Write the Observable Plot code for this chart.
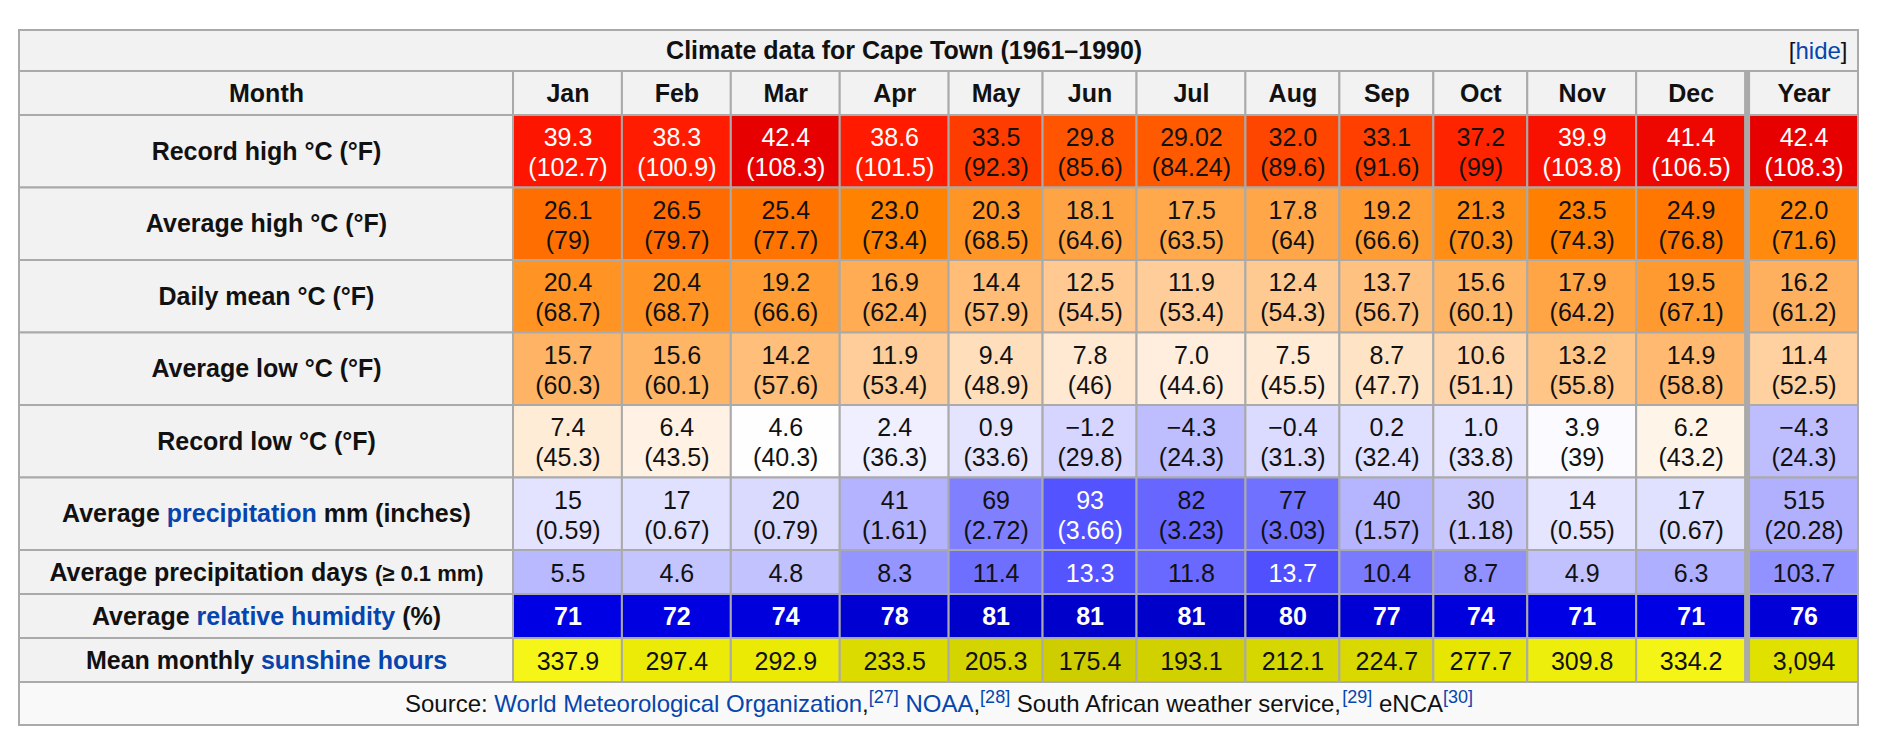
<!DOCTYPE html>
<html>
<head>
<meta charset="utf-8">
<script src="https://cdn.jsdelivr.net/npm/d3@7"></script>
<script src="https://cdn.jsdelivr.net/npm/@observablehq/plot@0.6"></script>
<style>
html, body { margin: 0; padding: 0; background: #fff; }
#chart svg { display: block; }
</style>
</head>
<body>
<div id="chart"></div>
<script>
// ---------------- data ----------------
const title = "Climate data for Cape Town (1961–1990)";
const columns = ["Jan","Feb","Mar","Apr","May","Jun","Jul","Aug","Sep","Oct","Nov","Dec","Year"];
const recordHighC = ["39.3","38.3","42.4","38.6","33.5","29.8","29.02","32.0","33.1","37.2","39.9","41.4","42.4"];
const recordHighF = ["102.7","100.9","108.3","101.5","92.3","85.6","84.24","89.6","91.6","99","103.8","106.5","108.3"];
const avgHighC = ["26.1","26.5","25.4","23.0","20.3","18.1","17.5","17.8","19.2","21.3","23.5","24.9","22.0"];
const avgHighF = ["79","79.7","77.7","73.4","68.5","64.6","63.5","64","66.6","70.3","74.3","76.8","71.6"];
const dailyMeanC = ["20.4","20.4","19.2","16.9","14.4","12.5","11.9","12.4","13.7","15.6","17.9","19.5","16.2"];
const dailyMeanF = ["68.7","68.7","66.6","62.4","57.9","54.5","53.4","54.3","56.7","60.1","64.2","67.1","61.2"];
const avgLowC = ["15.7","15.6","14.2","11.9","9.4","7.8","7.0","7.5","8.7","10.6","13.2","14.9","11.4"];
const avgLowF = ["60.3","60.1","57.6","53.4","48.9","46","44.6","45.5","47.7","51.1","55.8","58.8","52.5"];
const recordLowC = ["7.4","6.4","4.6","2.4","0.9","−1.2","−4.3","−0.4","0.2","1.0","3.9","6.2","−4.3"];
const recordLowF = ["45.3","43.5","40.3","36.3","33.6","29.8","24.3","31.3","32.4","33.8","39","43.2","24.3"];
const precipMm = ["15","17","20","41","69","93","82","77","40","30","14","17","515"];
const precipIn = ["0.59","0.67","0.79","1.61","2.72","3.66","3.23","3.03","1.57","1.18","0.55","0.67","20.28"];
const precipDays = ["5.5","4.6","4.8","8.3","11.4","13.3","11.8","13.7","10.4","8.7","4.9","6.3","103.7"];
const humidity = ["71","72","74","78","81","81","81","80","77","74","71","71","76"];
const sunshineHours = ["337.9","297.4","292.9","233.5","205.3","175.4","193.1","212.1","224.7","277.7","309.8","334.2","3,094"];
const headerLabel = "Month";
const rowLabels = [
  [["Record high °C (°F)"]],
  [["Average high °C (°F)"]],
  [["Daily mean °C (°F)"]],
  [["Average low °C (°F)"]],
  [["Record low °C (°F)"]],
  [["Average "], ["precipitation", "link"], [" mm (inches)"]],
  [["Average precipitation days "], ["(≥ 0.1 mm)", "small"]],
  [["Average "], ["relative humidity", "link"], [" (%)"]],
  [["Mean monthly "], ["sunshine hours", "link"]]
];
const hideParts = [["["], ["hide", "link"], ["]"]];
const sourceParts = [["Source: "], ["World Meteorological Organization", "link"], [","], ["[27]", "sup"],
  [" "], ["NOAA", "link"], [","], ["[28]", "sup"], [" South African weather service,"], ["[29]", "sup"],
  [" eNCA"], ["[30]", "sup"]];

// ---------------- styling / layout constants ----------------
const W = 1884, H = 746;
const fontFamily = "'Liberation Sans', Arial, Helvetica, sans-serif";
const fs = 25, smallFs = 22, sourceFs = 24, supFs = 18;
const tableLeft = 19, tableRight = 1858, tableTop = 30;
const labelColWidth = 494, yearGap = 4, cellPad = 22;
const titleRowH = 41, headRowH = 44, twoLineRowH = 72.5, oneLineRowH = 44, sourceRowH = 43;
const headBg = "#f2f2f2", sourceBg = "#f9f9f9", borderColor = "#aaaaaa";
const textColor = "#111111", linkColor = "#0645ad";

// ---------------- colour rules ----------------
const num = s => +String(s).replace("−", "-").replace(",", "");
const clamp = v => Math.max(0, Math.min(255, Math.round(v)));
const rgb = (r, g, b) => `rgb(${clamp(r)},${clamp(g)},${clamp(b)})`;
function tempStyle(s) {
  const c = num(s);
  let r, g, b;
  if (c < 4.5) { r = g = 255 * (c + 30) / 34.5; b = 255; }
  else {
    r = c > 39 ? 255 - (c - 39) * 7.5 : 255;
    g = 255 * (1 - (c - 4.5) / 38);
    b = 255 * (1 - (c - 4.5) / 18.5);
  }
  return {fill: rgb(r, g, b), text: c * 1.8 + 32 >= 100 ? "#ffffff" : textColor};
}
function precipStyle(s, isYear) {
  const v = num(s) / (isYear ? 12 : 1), t = 255 * (1 - v / 138);
  return {fill: rgb(t, t, 255), text: t < 100 ? "#ffffff" : textColor};
}
function daysStyle(s, isYear) {
  const v = num(s) / (isYear ? 12 : 1), t = 255 * (1 - v / 20);
  return {fill: rgb(t, t, 255), text: t < 100 ? "#ffffff" : textColor};
}
function humidityStyle(s) {
  const h = num(s);
  return {fill: rgb(0, 0, 255 - (h - 60) * 2.5), text: "#ffffff"};
}
function sunStyle(s, isYear) {
  const v = num(s) / (isYear ? 12 : 1), t = 162 + 0.245 * v;
  return {fill: rgb(t, t, Math.max(0, (v - 280) * 0.4)), text: textColor};
}

const rows = [
  {label: rowLabels[0], top: recordHighC, bottom: recordHighF, style: tempStyle},
  {label: rowLabels[1], top: avgHighC, bottom: avgHighF, style: tempStyle},
  {label: rowLabels[2], top: dailyMeanC, bottom: dailyMeanF, style: tempStyle},
  {label: rowLabels[3], top: avgLowC, bottom: avgLowF, style: tempStyle},
  {label: rowLabels[4], top: recordLowC, bottom: recordLowF, style: tempStyle},
  {label: rowLabels[5], top: precipMm, bottom: precipIn, style: precipStyle},
  {label: rowLabels[6], top: precipDays, style: daysStyle},
  {label: rowLabels[7], top: humidity, style: humidityStyle, bold: true},
  {label: rowLabels[8], top: sunshineHours, style: sunStyle}
];

// ---------------- text measuring ----------------
const ctx = document.createElement("canvas").getContext("2d");
function textW(t, size, weight = "normal") {
  ctx.font = `${weight} ${size}px ${fontFamily}`;
  return ctx.measureText(t).width;
}

// column widths from content (like an auto-layout table), stretched to the table width
const natural = columns.map((c, j) => {
  let m = textW(c, fs, "bold");
  for (const r of rows) {
    m = Math.max(m, textW(r.top[j], fs, r.bold ? "bold" : "normal"));
    if (r.bottom) m = Math.max(m, textW(`(${r.bottom[j]})`, fs));
  }
  return m + cellPad;
});
const avail = tableRight - tableLeft - labelColWidth - yearGap;
const k = avail / d3.sum(natural);
const colEdges = [];
{
  let x = tableLeft + labelColWidth;
  columns.forEach((c, j) => {
    if (c === "Year") x += yearGap;
    colEdges.push([x, x + natural[j] * k]);
    x += natural[j] * k;
  });
}
const labelEdge = [tableLeft, tableLeft + labelColWidth];

// row bands
let yy = tableTop;
const titleBand = [yy, yy += titleRowH];
const headBand = [yy, yy += headRowH];
const rowBands = rows.map(r => [yy, yy += (r.bottom ? twoLineRowH : oneLineRowH)]);
const sourceBand = [yy, yy += sourceRowH];

// ---------------- build mark data ----------------
const rects = [];
rects.push({x1: tableLeft, x2: tableRight, y1: titleBand[0], y2: titleBand[1], fill: headBg});
rects.push({x1: labelEdge[0], x2: labelEdge[1], y1: headBand[0], y2: headBand[1], fill: headBg});
columns.forEach((c, j) => rects.push({x1: colEdges[j][0], x2: colEdges[j][1], y1: headBand[0], y2: headBand[1], fill: headBg}));
const valueCells = [];
rows.forEach((r, i) => {
  const [y1, y2] = rowBands[i];
  rects.push({x1: labelEdge[0], x2: labelEdge[1], y1, y2, fill: headBg});
  columns.forEach((c, j) => {
    const st = r.style(r.top[j], c === "Year");
    rects.push({x1: colEdges[j][0], x2: colEdges[j][1], y1, y2, fill: st.fill});
    valueCells.push({
      x: (colEdges[j][0] + colEdges[j][1]) / 2, y: (y1 + y2) / 2,
      text: r.bottom ? `${r.top[j]}\n(${r.bottom[j]})` : r.top[j],
      fill: st.text, bold: !!r.bold
    });
  });
});
rects.push({x1: tableLeft, x2: tableRight, y1: sourceBand[0], y2: sourceBand[1], fill: sourceBg});

// separator before the Year column
const yearIdx = columns.indexOf("Year");
const separators = [{x1: colEdges[yearIdx - 1][1], x2: colEdges[yearIdx][0], y1: headBand[0], y2: rowBands[rows.length - 1][1]}];

// header texts
const headTexts = [{x: (labelEdge[0] + labelEdge[1]) / 2, y: (headBand[0] + headBand[1]) / 2, text: headerLabel}]
  .concat(columns.map((c, j) => ({x: (colEdges[j][0] + colEdges[j][1]) / 2, y: (headBand[0] + headBand[1]) / 2, text: c})));

// segmented texts (mixed link / plain colours)
function layoutSegments(parts, startX, cy, sizeOf, weight) {
  const out = [];
  let x = startX;
  for (const [t, kind = "plain"] of parts) {
    const size = sizeOf(kind);
    const lead = t.length - t.trimStart().length;
    const trimmed = t.trim();
    out.push({x: x + textW(t.slice(0, lead), size, weight), y: cy, text: trimmed, kind,
      fill: (kind === "link" || kind === "sup") ? linkColor : textColor});
    x += textW(t, size, weight);
  }
  return out;
}
function segWidth(parts, sizeOf, weight) {
  return d3.sum(parts, ([t, kind = "plain"]) => textW(t, sizeOf(kind), weight));
}
const labelSize = kind => kind === "small" ? smallFs : fs;
const labelSegs = [];
rows.forEach((r, i) => {
  const cx = (labelEdge[0] + labelEdge[1]) / 2, cy = (rowBands[i][0] + rowBands[i][1]) / 2;
  const w = segWidth(r.label, labelSize, "bold");
  labelSegs.push(...layoutSegments(r.label, cx - w / 2, cy, labelSize, "bold"));
});
const srcSize = kind => kind === "sup" ? supFs : sourceFs;
const srcW = segWidth(sourceParts, srcSize, "normal");
const srcSegs = layoutSegments(sourceParts, (tableLeft + tableRight) / 2 - srcW / 2, (sourceBand[0] + sourceBand[1]) / 2, srcSize, "normal");
const hideW = segWidth(hideParts, () => sourceFs, "normal");
const hideLeft = tableRight - 11 - hideW;
const hideSegs = layoutSegments(hideParts, hideLeft, (titleBand[0] + titleBand[1]) / 2, () => sourceFs, "normal");
const titleText = [{x: (tableLeft + hideLeft) / 2, y: (titleBand[0] + titleBand[1]) / 2, text: title}];

// ---------------- plot ----------------
const chart = Plot.plot({
  width: W, height: H,
  marginTop: 0, marginRight: 0, marginBottom: 0, marginLeft: 0,
  x: {domain: [0, W], range: [0, W], axis: null},
  y: {domain: [0, H], range: [0, H], axis: null},
  color: {type: "identity"},
  style: {fontFamily, background: "#ffffff"},
  marks: [
    Plot.rect(rects, {x1: "x1", x2: "x2", y1: "y1", y2: "y2", fill: "fill", stroke: borderColor, strokeWidth: 2}),
    Plot.rect(separators, {x1: "x1", x2: "x2", y1: "y1", y2: "y2", fill: borderColor}),
    Plot.text(titleText, {x: "x", y: "y", text: "text", fill: textColor, fontSize: fs, fontWeight: "bold"}),
    Plot.text(hideSegs, {x: "x", y: "y", text: "text", fill: "fill", fontSize: sourceFs, textAnchor: "start"}),
    Plot.text(headTexts, {x: "x", y: "y", text: "text", fill: textColor, fontSize: fs, fontWeight: "bold"}),
    Plot.text(labelSegs.filter(d => d.kind !== "small"), {x: "x", y: "y", text: "text", fill: "fill", fontSize: fs, fontWeight: "bold", textAnchor: "start"}),
    Plot.text(labelSegs.filter(d => d.kind === "small"), {x: "x", y: "y", text: "text", fill: "fill", fontSize: smallFs, fontWeight: "bold", textAnchor: "start", dy: 1}),
    Plot.text(valueCells.filter(d => !d.bold), {x: "x", y: "y", text: "text", fill: "fill", fontSize: fs, lineHeight: 1.2}),
    Plot.text(valueCells.filter(d => d.bold), {x: "x", y: "y", text: "text", fill: "fill", fontSize: fs, fontWeight: "bold"}),
    Plot.text(srcSegs.filter(d => d.kind !== "sup"), {x: "x", y: "y", text: "text", fill: "fill", fontSize: sourceFs, textAnchor: "start"}),
    Plot.text(srcSegs.filter(d => d.kind === "sup"), {x: "x", y: "y", text: "text", fill: "fill", fontSize: supFs, textAnchor: "start", dy: -7})
  ]
});
document.getElementById("chart").append(chart);
</script>
</body>
</html>
